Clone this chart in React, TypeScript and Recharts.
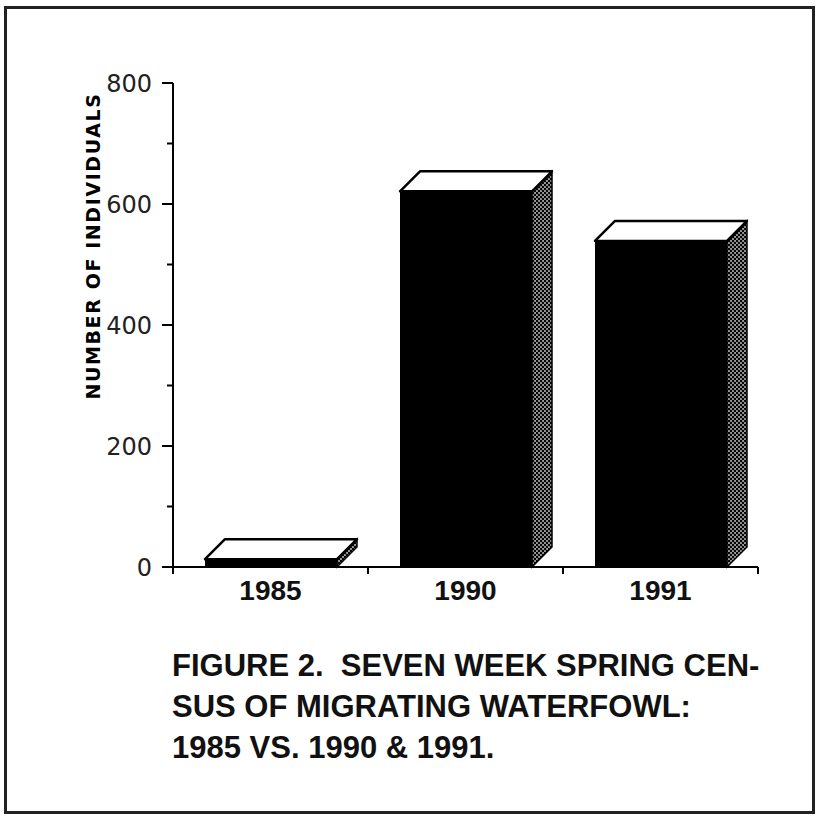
import React from 'react';
import { BarChart, Bar, XAxis, YAxis } from 'recharts';

const years = ['1985', '1990', '1991'];
const individuals = [13, 621, 539];
const yTicks = [0, 100, 200, 300, 400, 500, 600, 700, 800];
const yLabel = 'NUMBER OF INDIVIDUALS';
const captionLines = [
  'FIGURE 2.  SEVEN WEEK SPRING CEN-',
  'SUS OF MIGRATING WATERFOWL:',
  '1985 VS. 1990 & 1991.',
];

const data = years.map((year, i) => ({ year, count: individuals[i] }));

const W = 817;
const H = 816;
const margin = { top: 83, right: 59, left: 113, bottom: 209 };
const Y_AXIS_W = 60;
const X_AXIS_H = 40;
const PLOT_W = W - margin.left - Y_AXIS_W - margin.right;
const HALF_BAND = PLOT_W / years.length / 2;
const DEPTH = 20;

const YTick = (props: any) => {
  const { x, y, payload } = props;
  const major = payload.value % 200 === 0;
  return (
    <g>
      <line x1={x - (major ? 11 : 6)} y1={y} x2={x} y2={y} stroke="#000" strokeWidth={2} />
      {major && (
        <text x={x - 21} y={y} dy="0.36em" textAnchor="end" fontFamily="'DejaVu Sans', sans-serif" fontSize={24} fill="#222">
          {payload.value}
        </text>
      )}
    </g>
  );
};

const XTick = (props: any) => {
  const { x, y, payload, index } = props;
  return (
    <g>
      {index === 0 && <line x1={x - HALF_BAND} y1={y} x2={x - HALF_BAND} y2={y + 7} stroke="#000" strokeWidth={2} />}
      <line x1={x + HALF_BAND} y1={y} x2={x + HALF_BAND} y2={y + 7} stroke="#000" strokeWidth={2} />
      <text x={x} y={y + 23} dy="0.36em" textAnchor="middle" fontFamily="'Liberation Sans', Arial, sans-serif" fontWeight="bold" fontSize={28} fill="#111">
        {payload.value}
      </text>
    </g>
  );
};

const YLabel = () => (
  <text
    x={93}
    y={246}
    transform="rotate(-90 93 246)"
    textAnchor="middle"
    dy="0.36em"
    fontFamily="'DejaVu Sans', sans-serif"
    fontWeight="bold"
    fontSize={19}
    letterSpacing={1.6}
    fill="#000"
  >
    {yLabel}
  </text>
);

const Box3D = (props: any) => {
  const { x, y, width, height, index } = props;
  const right = x + width;
  const bottom = y + height;
  const pid = `halftone-${index}`;
  return (
    <g>
      <defs>
        <pattern id={pid} width={4} height={4} patternUnits="userSpaceOnUse">
          <rect width={4} height={4} fill="#9a9a9a" />
          <circle cx={1} cy={1} r={1.2} fill="#000" />
          <circle cx={3} cy={3} r={1.2} fill="#000" />
        </pattern>
      </defs>
      <rect x={x} y={y} width={width} height={height} fill="#000" />
      <polygon
        points={`${right},${y} ${right + DEPTH},${y - DEPTH} ${right + DEPTH},${bottom - DEPTH} ${right},${bottom}`}
        fill={`url(#${pid})`}
        stroke="#000"
        strokeWidth={1.5}
      />
      <polygon
        points={`${x},${y} ${x + DEPTH},${y - DEPTH} ${right + DEPTH},${y - DEPTH} ${right},${y}`}
        fill="#fff"
        stroke="#000"
        strokeWidth={2.5}
        strokeLinejoin="round"
      />
    </g>
  );
};

export default function App() {
  return (
    <div style={{ position: 'absolute', left: 0, top: 0, width: W, height: H, background: '#fff' }}>
      <div
        style={{
          position: 'absolute',
          left: 4,
          top: 6,
          width: 811,
          height: 808,
          border: '3px solid #222',
          boxSizing: 'border-box',
        }}
      />
      <BarChart width={W} height={H} data={data} margin={margin}>
        <XAxis
          dataKey="year"
          height={X_AXIS_H}
          axisLine={{ stroke: '#000', strokeWidth: 2 }}
          tickLine={false}
          tickSize={0}
          tickMargin={0}
          tick={<XTick />}
          interval={0}
        />
        <YAxis
          width={Y_AXIS_W}
          domain={[0, 800]}
          ticks={yTicks}
          interval={0}
          axisLine={{ stroke: '#000', strokeWidth: 2 }}
          tickLine={false}
          tickSize={0}
          tickMargin={0}
          tick={<YTick />}
          label={<YLabel />}
        />
        <Bar dataKey="count" fill="#000" barSize={132} shape={<Box3D />} isAnimationActive={false} />
      </BarChart>
      <div
        style={{
          position: 'absolute',
          left: 172,
          top: 645,
          fontFamily: "'Liberation Sans', Arial, sans-serif",
          fontWeight: 'bold',
          fontSize: 31,
          lineHeight: '41px',
          color: '#111',
          whiteSpace: 'pre',
        }}
      >
        {captionLines.map((line) => (
          <div key={line}>{line}</div>
        ))}
      </div>
    </div>
  );
}
